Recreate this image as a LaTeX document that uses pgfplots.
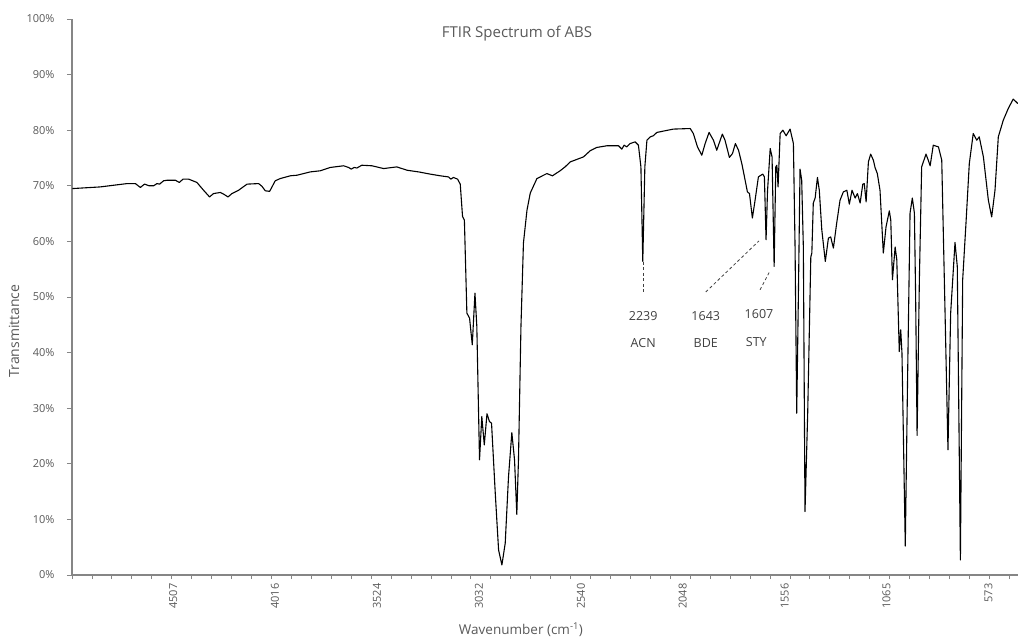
\documentclass[border=0pt]{standalone}
\usepackage{pgfplots}
\pgfplotsset{compat=1.18}
\usepackage{fontspec}
\setmainfont{Open Sans}
\definecolor{axgray}{HTML}{868686}
\definecolor{txtgray}{HTML}{595959}
\definecolor{anngray}{HTML}{404040}
\begin{document}
\begin{tikzpicture}
\begin{axis}[
  scale only axis,
  width=946pt, height=556pt,
  x dir=reverse,
  xmin=430, xmax=4996,
  ymin=0, ymax=100,
  axis x line*=bottom, axis y line*=left,
  axis line style={axgray, line width=1.2pt},
  tick align=outside,
  major tick length=5pt,
  minor tick length=4pt,
  tick style={axgray, line width=0.8pt},
  xtick={573,1065,1556,2048,2540,3032,3524,4016,4507},
  major x tick style={draw=none},
  minor xtick={471.8,568.06,...,5000},
  ytick={0,10,...,100},
  /pgf/number format/.cd, 1000 sep={}, assume math mode=true, /pgfplots/.cd,
  yticklabel={\pgfmathprintnumber{\tick}\%},
  xticklabel style={rotate=90, anchor=east, txtgray, font=\fontsize{11}{13}\selectfont},
  yticklabel style={txtgray, xshift=-9pt, font=\fontsize{11}{13}\selectfont},
  xlabel={Wavenumber (cm\textsuperscript{-1})},
  ylabel={Transmittance},
  xlabel style={at={(axis description cs:0.4746,-0.099)}, anchor=center, txtgray, font=\fontsize{13.5}{15}\selectfont},
  ylabel style={at={(axis description cs:-0.0613,0.4388)}, anchor=center, txtgray, font=\fontsize{14}{16}\selectfont},
  title={FTIR Spectrum of ABS},
  title style={at={(axis description cs:0.4704,0.9622)}, anchor=center, txtgray, font=\fontsize{15}{17}\selectfont},
]
\addplot[black, line width=1.1pt, line join=round] coordinates {
(4994,69.5) (4859,69.8) (4730,70.4) (4690,70.4) (4666,69.7) (4646,70.3) (4623,70.0) (4602,70.0)
(4586,70.4) (4573,70.3) (4554,70.9) (4537,71.0) (4497,71.0) (4478,70.6) (4460,71.2) (4433,71.2)
(4393,70.6) (4361,69.2) (4332,68.0) (4313,68.6) (4280,68.8) (4264,68.5) (4243,68.0) (4224,68.6)
(4192,69.2) (4151,70.3) (4095,70.4) (4079,69.9) (4063,69.1) (4042,69.0) (4015,70.9) (3991,71.3)
(3942,71.8) (3910,71.9) (3846,72.5) (3798,72.7) (3749,73.3) (3685,73.6) (3661,73.3) (3648,73.0)
(3634,73.3) (3621,73.2) (3597,73.7) (3548,73.6) (3492,73.1) (3428,73.4) (3379,72.8) (3323,72.5)
(3267,72.1) (3219,71.8) (3179,71.6) (3167,71.2) (3155,71.5) (3135,71.2) (3122,70.3) (3111,64.5)
(3102,63.8) (3090,47.1) (3077,46.2) (3064,41.4) (3051,50.7) (3042,44.7) (3029,20.7) (3018,28.5)
(3006,23.4) (2993,29.0) (2981,27.6) (2971,27.3) (2953,14.7) (2937,4.5) (2921,1.8) (2905,5.7)
(2889,17.7) (2873,25.6) (2860,20.7) (2849,10.9) (2841,20.7) (2829,44.7) (2817,59.7) (2800,65.6)
(2784,68.7) (2752,71.3) (2704,72.2) (2677,71.8) (2640,72.7) (2616,73.4) (2591,74.3) (2527,75.2)
(2495,76.3) (2463,76.9) (2414,77.2) (2358,77.2) (2342,76.6) (2331,77.3) (2318,77.0) (2302,77.6)
(2278,77.9) (2262,77.3) (2250,73.4) (2241,56.4) (2231,73.4) (2221,78.2) (2205,78.8) (2190,79.0)
(2173,79.6) (2093,80.2) (2012,80.3) (1997,79.4) (1977,77.0) (1956,75.5) (1940,77.6) (1921,79.6)
(1900,78.2) (1884,76.4) (1857,79.3) (1844,78.2) (1823,75.1) (1808,75.8) (1794,77.6) (1779,76.4)
(1763,74.0) (1747,71.0) (1736,68.9) (1726,68.6) (1712,64.2) (1699,67.4) (1683,71.6) (1675,71.8)
(1662,72.1) (1654,71.6) (1646,60.3) (1639,69.0) (1626,76.7) (1617,75.2) (1607,55.5) (1599,73.4)
(1594,73.7) (1588,69.8) (1578,79.4) (1565,80.0) (1549,79.0) (1530,80.2) (1514,77.6) (1506,59.0)
(1498,29.1) (1490,50.1) (1482,73.0) (1474,71.0) (1466,59.0) (1458,11.4) (1445,29.1) (1430,57.2)
(1425,57.9) (1418,66.9) (1409,67.8) (1398,71.5) (1389,69.2) (1377,62.1) (1360,56.4) (1345,60.6)
(1334,60.8) (1321,58.8) (1305,63.3) (1289,67.4) (1273,68.9) (1256,69.2) (1244,66.7) (1231,69.2)
(1216,67.8) (1205,68.6) (1192,66.9) (1179,70.3) (1172,70.4) (1163,67.1) (1152,74.3) (1141,75.7)
(1128,74.6) (1120,73.3) (1109,72.2) (1096,69.2) (1080,57.9) (1067,62.6) (1051,65.5) (1044,63.8)
(1036,53.1) (1023,59.0) (1015,56.7) (1003,40.2) (996,44.1) (990,39.9) (974,5.2) (963,35.1)
(951,65.1) (940,67.8) (930,65.1) (924,50.0) (917,25.1) (906,53.1) (895,73.4) (874,75.7)
(863,74.6) (854,73.6) (839,77.3) (814,77.0) (798,74.6) (782,47.1) (768,22.5) (755,47.1)
(734,59.8) (723,55.5) (708,2.7) (697,53.1) (681,63.3) (665,74.0) (646,79.4) (629,78.2)
(617,78.8) (597,75.2) (573,67.4) (557,64.4) (541,69.2) (525,78.8) (501,81.8) (477,83.9)
(453,85.6) (431,84.8)
};
% peak markers
\draw[anngray, line width=0.8pt, dash pattern=on 3pt off 2.5pt] (axis cs:2239,56.3) -- (axis cs:2239,50.7);
\draw[anngray, line width=0.8pt, dash pattern=on 3pt off 2.5pt] (axis cs:1937,50.9) -- (axis cs:1680,60.1);
\draw[anngray, line width=0.8pt, dash pattern=on 3pt off 2.5pt] (axis cs:1675,51.3) -- (axis cs:1627,54.7);
\begin{scope}[every node/.style={anngray, font=\fontsize{12.5}{14}\selectfont}]
\node at (axis cs:2239,46.6) {2239};
\node at (axis cs:2239,41.7) {ACN};
\node at (axis cs:1937,46.6) {1643};
\node at (axis cs:1937,41.7) {BDE};
\node at (axis cs:1680,46.9) {1607};
\node at (axis cs:1693,41.9) {STY};
\end{scope}
\end{axis}
\pgfresetboundingbox
\path (current axis.south west) ++(-72pt,-63pt) rectangle ++(1018pt,638pt);
\end{tikzpicture}
\end{document}
